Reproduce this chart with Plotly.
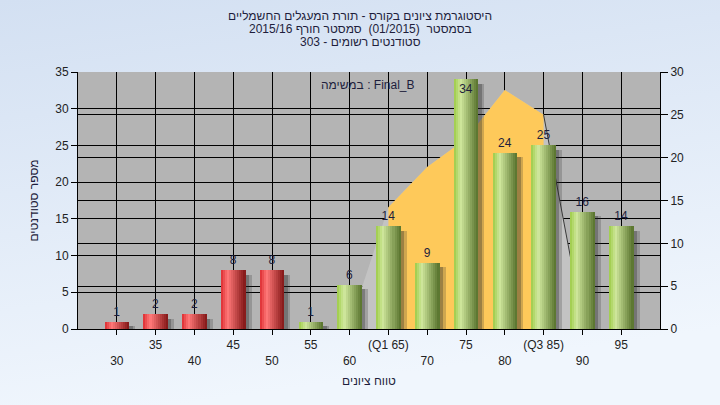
import base64
import plotly.graph_objects as go

# ---------------- data ----------------
grades = [30, 35, 40, 45, 50, 55, 60, 65, 70, 75, 80, 85, 90, 95]
counts = [1, 2, 2, 8, 8, 1, 6, 14, 9, 34, 24, 25, 16, 14]
tick_labels = ["<br>30", "35", "<br>40", "45", "<br>50", "55", "<br>60",
               "(Q1 65)", "<br>70", "75", "<br>80", "(Q3 85)", "<br>90", "95"]
pass_grade = 55
curve_x = [60, 65, 70, 75, 80, 85, 90]
curve_y = [0.5, 14.2, 18.9, 22.2, 27.9, 25.0, 1.0]   # right-axis units
q1, q3 = 65, 85

title_lines = [
    "היסטוגרמת ציונים בקורס - תורת המעגלים החשמליים",
    "בסמסטר  (01/2015)  סמסטר חורף 2015/16",
    "סטודנטים רשומים - 303",
]
task_label = "במשימה : Final_B"
x_title = "טווח ציונים"
y_title = "מספר סטודנטים"

# ---------------- layout geometry ----------------
W, H = 720, 405
ML, MR, MT, MB = 78, 60, 72, 76
PW, PH = W - ML - MR, H - MT - MB
FONT = "Liberation Sans, Arial, DejaVu Sans, sans-serif"
TXT = "#1e1e3c"


def px_x(px):
    return (px - ML) / PW


def px_y(py):
    return 1 - (py - MT) / PH


def hex2rgb(h):
    h = h.lstrip("#")
    return [int(h[i:i + 2], 16) for i in (0, 2, 4)]


def lerp(c1, c2, t):
    a, b = hex2rgb(c1), hex2rgb(c2)
    return "rgb(%d,%d,%d)" % tuple(round(a[i] + (b[i] - a[i]) * t) for i in range(3))


def profile(left, hi, right, t, tp=0.28):
    if t <= tp:
        return lerp(left, hi, t / tp)
    return lerp(hi, right, (t - tp) / (1 - tp))


RED = ("#dc2c30", "#ff7878", "#821616")
GREEN = ("#9ccb46", "#cfe79c", "#56712b")

fig = go.Figure()

# distribution area (drawn on main axis -> below bars)
fig.add_trace(go.Scatter(x=curve_x, y=curve_y, mode="none", fill="tozeroy",
                         fillcolor="#c3c3c3", yaxis="y", hoverinfo="skip",
                         showlegend=False))
iq_x = [x for x in curve_x if q1 <= x <= q3]
iq_y = [y for x, y in zip(curve_x, curve_y) if q1 <= x <= q3]
fig.add_trace(go.Scatter(x=iq_x, y=iq_y, mode="none", fill="tozeroy",
                         fillcolor="#fec95a", yaxis="y", hoverinfo="skip",
                         showlegend=False))
tail_x = [x for x in curve_x if x >= q3]
tail_y = [y for x, y in zip(curve_x, curve_y) if x >= q3]
fig.add_trace(go.Scatter(x=tail_x, y=tail_y, mode="lines",
                         line=dict(color="#3a3a3a", width=1), yaxis="y",
                         hoverinfo="skip", showlegend=False))

BW = 3.15
# shadows
for off, alpha in [(0.8, 0.22), (0.45, 0.30)]:
    fig.add_trace(go.Bar(x=grades, y=[max(c - 0.6, 0) for c in counts],
                         width=BW, offset=-BW / 2 + off,
                         marker=dict(color="rgba(40,40,40,%.2f)" % alpha, line=dict(width=0)),
                         yaxis="y2", hoverinfo="skip", showlegend=False))

# cylindrical gradient via strips
N = 12
for i in range(N):
    t = (i + 0.5) / N
    cols = [profile(*(RED if g < pass_grade else GREEN), t) for g in grades]
    fig.add_trace(go.Bar(x=grades, y=counts, width=BW / N + 0.01,
                         offset=-BW / 2 + i * BW / N,
                         marker=dict(color=cols, line=dict(width=0)),
                         yaxis="y2", hoverinfo="skip", showlegend=False))

# value labels
ymax_left = 35
positions = ["inside" if c > ymax_left - 2 else "outside" for c in counts]
fig.add_trace(go.Bar(x=grades, y=counts, width=BW, offset=-BW / 2,
                     marker=dict(color="rgba(0,0,0,0)", line=dict(width=0)),
                     text=[str(c) for c in counts], textposition=positions,
                     insidetextanchor="end",
                     textfont=dict(family=FONT, size=12, color=TXT),
                     cliponaxis=False, yaxis="y2", hoverinfo="skip",
                     showlegend=False))

# background gradient
svg = ("<svg xmlns='http://www.w3.org/2000/svg' width='720' height='405' "
       "preserveAspectRatio='none'><defs><linearGradient id='g' x1='0' y1='0' "
       "x2='0.25' y2='1'><stop offset='0' stop-color='#d3e0f2'/>"
       "<stop offset='1' stop-color='#f0f6fd'/></linearGradient></defs>"
       "<rect width='720' height='405' fill='url(#g)'/></svg>")
src = "data:image/svg+xml;base64," + base64.b64encode(svg.encode()).decode()

annotations = []
for k, line in enumerate(title_lines):
    annotations.append(dict(text=line, xref="paper", yref="paper",
                            x=px_x(360), y=px_y(16 + 13 * k), showarrow=False,
                            xanchor="center", yanchor="middle",
                            font=dict(family=FONT, size=12, color=TXT)))
annotations.append(dict(text=task_label, xref="paper", yref="paper",
                        x=px_x(368), y=px_y(85), showarrow=False,
                        xanchor="center", yanchor="middle",
                        font=dict(family=FONT, size=12, color=TXT)))

axis_font = dict(family=FONT, size=12, color="#222222")

fig.update_layout(
    width=W, height=H,
    margin=dict(l=ML, r=MR, t=MT, b=MB, pad=0),
    paper_bgcolor="#e3ecf8", plot_bgcolor="#b4b4b4",
    barmode="overlay", bargap=0,
    showlegend=False, hovermode=False,
    font=dict(family=FONT, size=12, color=TXT),
    images=[dict(source=src, xref="paper", yref="paper",
                 x=px_x(0), y=px_y(0), sizex=W / PW, sizey=H / PH,
                 sizing="stretch", layer="below", xanchor="left", yanchor="top")],
    shapes=[dict(type="rect", xref="paper", yref="paper", x0=0, x1=1, y0=0, y1=1,
                 fillcolor="#b4b4b4", line=dict(width=0), layer="below")],
    annotations=annotations,
    xaxis=dict(range=[25, 100], tickmode="array", tickvals=grades,
               ticktext=tick_labels, showgrid=True, gridcolor="#000000",
               gridwidth=1, showline=True, linecolor="#000000", linewidth=1,
               ticks="outside", ticklen=5, tickcolor="#000000",
               tickfont=axis_font, zeroline=False, tickangle=0,
               title=dict(text=x_title, standoff=9,
                          font=dict(family=FONT, size=12, color=TXT))),
    yaxis=dict(range=[0, 30], side="right", dtick=5, showgrid=True,
               gridcolor="#000000", gridwidth=1, showline=True,
               linecolor="#000000", linewidth=1, ticks="outside", ticklen=7,
               tickcolor="#000000", tickfont=axis_font, zeroline=False),
    yaxis2=dict(range=[0, 35], side="left", overlaying="y", dtick=5,
                showgrid=True, gridcolor="#000000", gridwidth=1, showline=True,
                linecolor="#000000", linewidth=1, ticks="outside", ticklen=6,
                tickcolor="#000000", tickfont=axis_font, zeroline=False,
                title=dict(text=y_title, standoff=14,
                           font=dict(family=FONT, size=12, color=TXT))),
)

fig.write_html("out.html", config={"displayModeBar": False, "staticPlot": True},
               post_script="document.body.style.margin='0';document.body.style.overflow='hidden';")
